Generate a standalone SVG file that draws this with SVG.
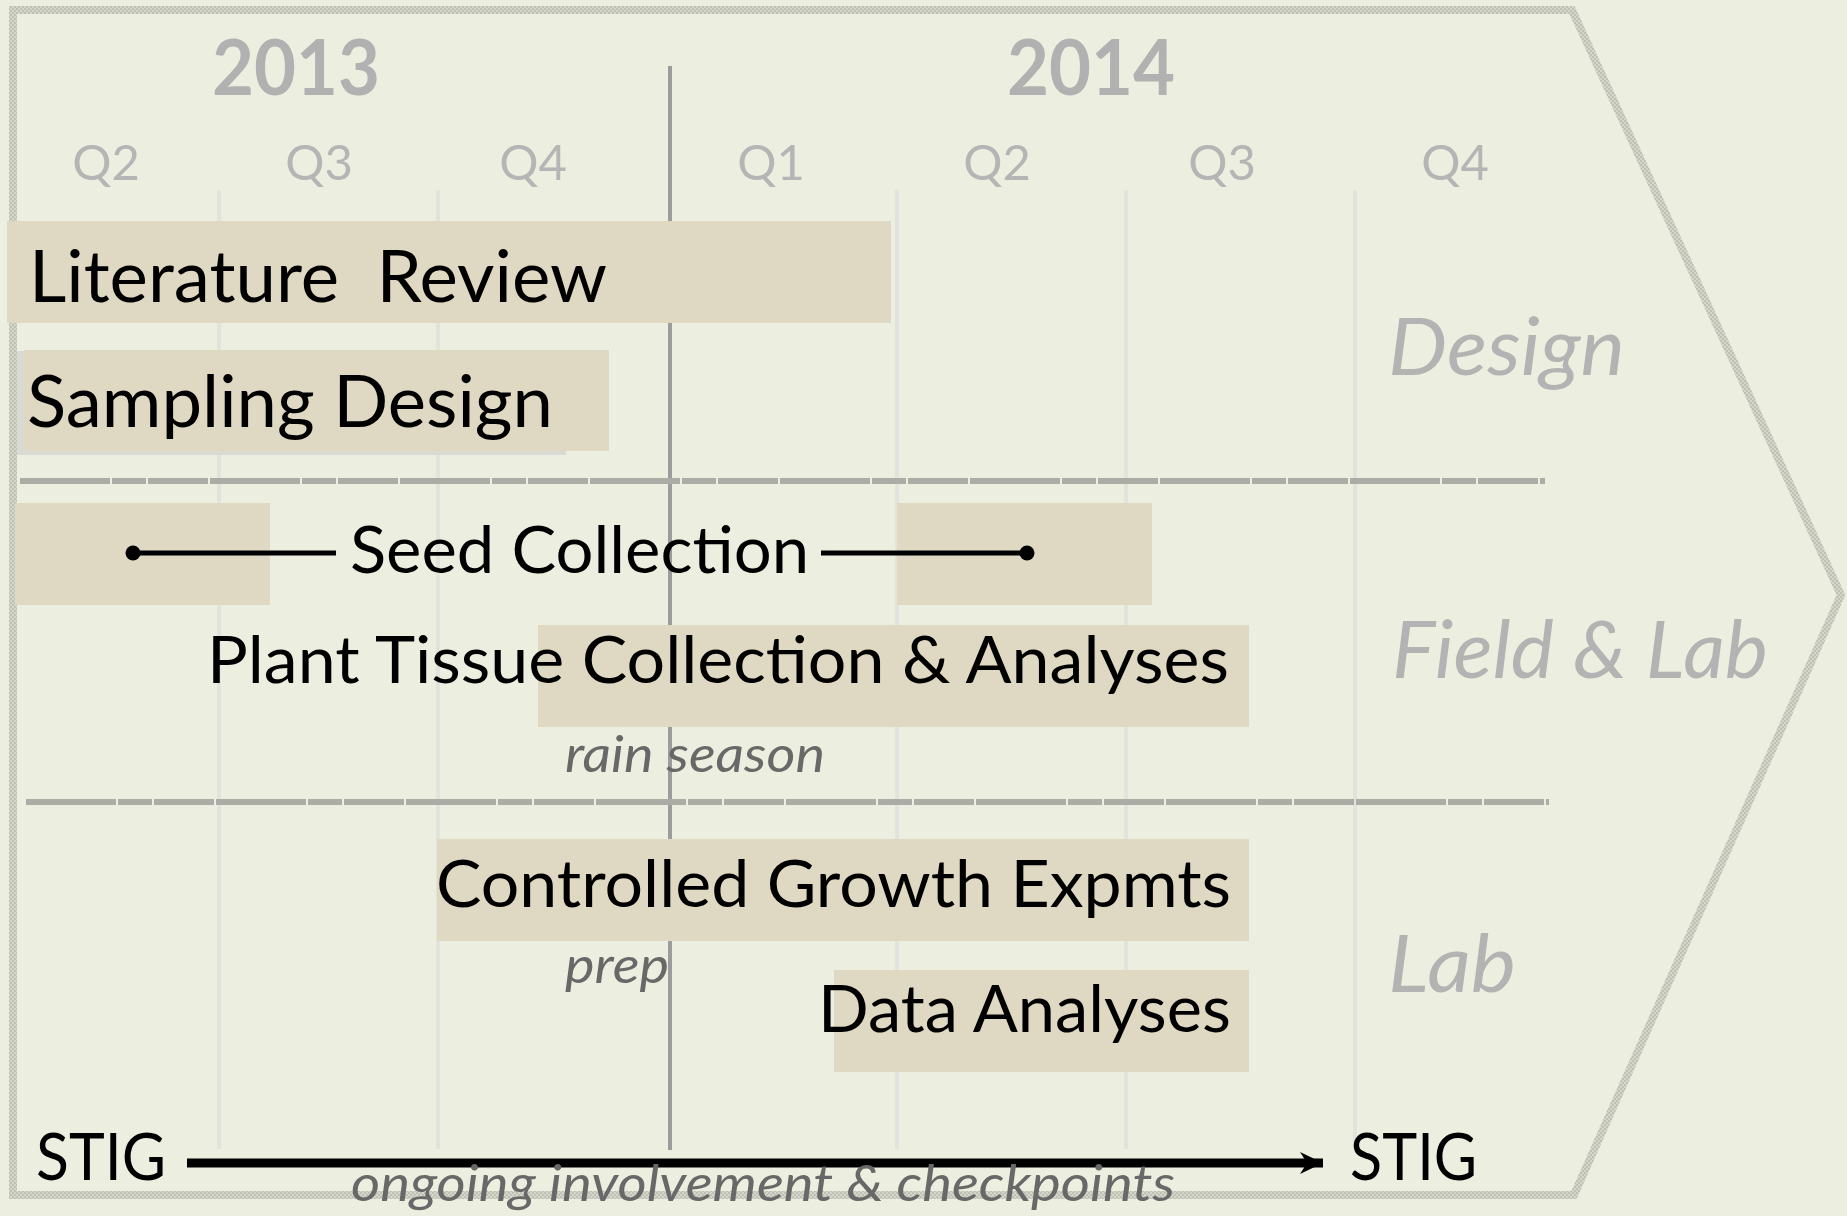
<svg xmlns="http://www.w3.org/2000/svg" width="1847" height="1216" viewBox="0 0 1847 1216">
  <defs>
    <style>
      .bar { fill: #DFD9C3; }
      .grid { stroke: #E2E3DD; stroke-width: 4; }
      .sep { stroke: #ABACA5; stroke-width: 6; stroke-dasharray: 90 2 34 2 60 2; }
      .task { font-family: Lato, "Open Sans", sans-serif; fill: #000; }
      .big { font-size: 72px; }
      .mid { font-size: 65px; }
      .year { font-family: Lato, "Open Sans", sans-serif; font-weight: bold; font-size: 77px; fill: #B1B1B1; }
      .qtr { font-family: Lato, "Open Sans", sans-serif; font-size: 49px; fill: #B5B5B5; }
      .phase { font-family: Lato, "Open Sans", sans-serif; font-style: italic; font-size: 80px; fill: #B3B3B3; }
      .note { font-family: Lato, "Open Sans", sans-serif; font-style: italic; font-size: 50px; fill: #686868; }
    </style>
    <pattern id="rough" width="4" height="4" patternUnits="userSpaceOnUse">
      <rect width="4" height="4" fill="#D3D6C8"/>
      <rect width="2" height="2" fill="#BEC1B3"/>
      <rect x="2" y="2" width="2" height="2" fill="#BEC1B3"/>
    </pattern>
    <marker id="head" markerUnits="userSpaceOnUse" markerWidth="26" markerHeight="26" viewBox="0 0 26 26" refX="23" refY="13" orient="auto">
      <path d="M0 2 L23 13 L0 24 L7 13 Z" fill="#000"/>
    </marker>
    <marker id="dot" markerUnits="userSpaceOnUse" markerWidth="18" markerHeight="18" viewBox="0 0 18 18" refX="9" refY="9">
      <circle cx="9" cy="9" r="7.5" fill="#000"/>
    </marker>
  </defs>

  <!-- background -->
  <rect width="1847" height="1216" fill="#ECEFDF"/>

  <!-- chevron frame -->
  <path d="M13 10 L1572 10 L1841 595 L1574 1195 L13 1195 Z" fill="none" stroke="url(#rough)" stroke-width="8" stroke-linejoin="miter"/>

  <!-- quarter grid -->
  <g id="grid">
    <line class="grid" x1="219" y1="190" x2="219" y2="1149"/>
    <line class="grid" x1="438" y1="190" x2="438" y2="1149"/>
    <line class="grid" x1="897" y1="190" x2="897" y2="1149"/>
    <line class="grid" x1="1126" y1="190" x2="1126" y2="1149"/>
    <line class="grid" x1="1355" y1="190" x2="1355" y2="1149"/>
    <line x1="670" y1="66" x2="670" y2="1150" stroke="#9C9C9C" stroke-width="4"/>
  </g>

  <!-- phase separators -->
  <g id="separators">
    <line class="sep" x1="20" y1="481" x2="1545" y2="481"/>
    <line class="sep" x1="26" y1="802" x2="1549" y2="802"/>
  </g>

  <!-- timeline header -->
  <g id="header">
    <text class="year" x="296" y="95" text-anchor="middle" textLength="168" lengthAdjust="spacingAndGlyphs">2013</text>
    <text class="year" x="1091" y="95" text-anchor="middle" textLength="168" lengthAdjust="spacingAndGlyphs">2014</text>
    <text class="qtr" x="106" y="180" text-anchor="middle">Q2</text>
    <text class="qtr" x="319" y="180" text-anchor="middle">Q3</text>
    <text class="qtr" x="533" y="180" text-anchor="middle">Q4</text>
    <text class="qtr" x="771" y="180" text-anchor="middle">Q1</text>
    <text class="qtr" x="997" y="180" text-anchor="middle">Q2</text>
    <text class="qtr" x="1222" y="180" text-anchor="middle">Q3</text>
    <text class="qtr" x="1455" y="180" text-anchor="middle">Q4</text>
  </g>

  <!-- phase labels -->
  <g id="phases">
    <text class="phase" x="1388" y="375" textLength="237" lengthAdjust="spacingAndGlyphs">Design</text>
    <text class="phase" x="1392" y="678" textLength="376" lengthAdjust="spacingAndGlyphs">Field &amp; Lab</text>
    <text class="phase" x="1388" y="992" textLength="128" lengthAdjust="spacingAndGlyphs">Lab</text>
  </g>

  <!-- tasks -->
  <g id="literature-review">
    <rect class="bar" x="7" y="221" width="884" height="102"/>
    <text class="task big" x="29" y="302" textLength="578" lengthAdjust="spacingAndGlyphs" xml:space="preserve">Literature  Review</text>
  </g>

  <g id="sampling-design">
    <rect x="17" y="351" width="549" height="104" fill="#D9DAD4"/>
    <rect class="bar" x="24" y="350" width="585" height="101"/>
    <text class="task big" x="27" y="427" textLength="526" lengthAdjust="spacingAndGlyphs">Sampling Design</text>
  </g>

  <g id="seed-collection">
    <rect class="bar" x="15" y="503" width="255" height="102"/>
    <rect class="bar" x="897" y="503" width="255" height="102"/>
    <text class="task mid" x="350" y="573" textLength="459" lengthAdjust="spacingAndGlyphs">Seed Collection</text>
  </g>

  <g id="plant-tissue">
    <rect class="bar" x="538" y="625" width="711" height="102"/>
    <text class="task mid" x="207" y="683" textLength="1022" lengthAdjust="spacingAndGlyphs">Plant Tissue Collection &amp; Analyses</text>
    <text class="note" x="565" y="772" textLength="260" lengthAdjust="spacingAndGlyphs">rain season</text>
  </g>

  <g id="controlled-growth">
    <rect class="bar" x="437" y="839" width="812" height="102"/>
    <text class="task mid" x="436" y="907" textLength="795" lengthAdjust="spacingAndGlyphs">Controlled Growth Expmts</text>
    <text class="note" x="565" y="983" textLength="104" lengthAdjust="spacingAndGlyphs">prep</text>
  </g>

  <g id="data-analyses">
    <rect class="bar" x="834" y="970" width="415" height="102"/>
    <text class="task mid" x="818" y="1032" textLength="413" lengthAdjust="spacingAndGlyphs">Data Analyses</text>
  </g>

  <g id="stig-start">
    <text class="task mid" x="36" y="1180" textLength="130" lengthAdjust="spacingAndGlyphs">STIG</text>
  </g>

  <g id="stig-end">
    <text class="task mid" x="1350" y="1180" textLength="127" lengthAdjust="spacingAndGlyphs">STIG</text>
  </g>

  <!-- connectors -->
  <g id="connectors" fill="none" stroke="#000">
    <line x1="133" y1="553" x2="336" y2="553" stroke-width="5" marker-start="url(#dot)"/>
    <line x1="821" y1="553" x2="1027" y2="553" stroke-width="5" marker-end="url(#dot)"/>
    <line x1="187" y1="1163" x2="1323" y2="1163" stroke-width="9" marker-end="url(#head)"/>
  </g>

  <text class="note" x="351" y="1201" textLength="824" lengthAdjust="spacingAndGlyphs">ongoing involvement &amp; checkpoints</text>
</svg>
